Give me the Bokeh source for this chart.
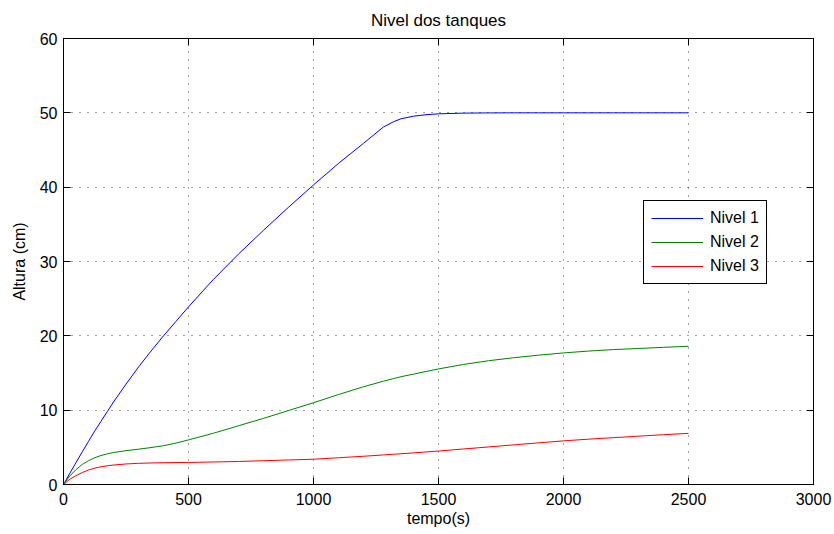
from bokeh.plotting import figure
from bokeh.models import ColumnDataSource, Legend, LegendItem, FixedTicker, Range1d, LinearAxis
from bokeh.embed import file_html
from bokeh.resources import INLINE

# ---- data ----
tempo = [0, 25, 50, 75, 100, 125, 150, 175, 200, 250, 300, 350, 400, 450, 500, 600, 700, 800, 900,
         1000, 1100, 1200, 1280, 1320, 1350, 1400, 1450, 1500, 1600, 1700, 1800,
         1900, 2000, 2100, 2200, 2300, 2400, 2500]
nivel1 = [0, 1.5, 2.95, 4.4, 5.8, 7.2, 8.5, 9.8, 11.1, 13.5, 15.8, 17.95, 20.0, 21.95, 23.9, 27.6, 31.0, 34.2, 37.3,
          40.3, 43.2, 45.9, 48.1, 48.8, 49.2, 49.55, 49.75, 49.87, 49.96, 49.99, 50.0,
          50.0, 50.0, 50.0, 50.0, 50.0, 50.0, 50.0]
nivel2 = [0, 1.15, 2.0, 2.7, 3.2, 3.6, 3.9, 4.12, 4.3, 4.55, 4.75, 4.97, 5.22, 5.57, 6.0, 6.9, 7.9, 8.9, 9.95,
          11.0, 12.1, 13.15, 13.9, 14.25, 14.5, 14.85, 15.2, 15.55, 16.15, 16.65, 17.05,
          17.4, 17.7, 17.95, 18.15, 18.3, 18.45, 18.6]
nivel3 = [0, 0.7, 1.2, 1.6, 1.95, 2.2, 2.38, 2.52, 2.62, 2.76, 2.85, 2.9, 2.93, 2.95, 2.97, 3.03, 3.1, 3.2, 3.3,
          3.4, 3.6, 3.8, 3.98, 4.07, 4.14, 4.25, 4.38, 4.5, 4.78, 5.05, 5.33,
          5.6, 5.87, 6.1, 6.3, 6.5, 6.7, 6.88]
series_names = ["Nivel 1", "Nivel 2", "Nivel 3"]
series_colors = ["#0000ff", "#008000", "#ff0000"]
x_ticks = [0, 500, 1000, 1500, 2000, 2500, 3000]
y_ticks = [0, 10, 20, 30, 40, 50, 60]

FONT = "Liberation Sans"
W, H = 834, 534
BL, BR, BT, BB = 63, 21, 38, 50
X0, X1, Y0, Y1 = 0, 3000, 0, 60
TICK = 7

src = ColumnDataSource(dict(t=tempo, n1=nivel1, n2=nivel2, n3=nivel3))

p = figure(width=W, height=H, output_backend="svg", toolbar_location=None,
           x_range=Range1d(X0, X1), y_range=Range1d(Y0, Y1),
           min_border_left=BL, min_border_right=BR, min_border_top=BT, min_border_bottom=BB,
           title="Nivel dos tanques")
p.title.align = "center"
p.title.text_font = FONT
p.title.text_font_size = "17px"
p.title.text_font_style = "normal"
p.title.text_color = "black"
p.title.standoff = 17

p.outline_line_color = "black"
p.outline_line_alpha = 1
p.background_fill_color = "white"
p.border_fill_color = "white"

for ax, ticks in ((p.xaxis[0], x_ticks), (p.yaxis[0], y_ticks)):
    ax.ticker = FixedTicker(ticks=ticks)
    ax.major_tick_in = TICK
    ax.major_tick_out = 0
    ax.minor_tick_line_color = None
    ax.axis_line_color = "black"
    ax.major_tick_line_color = "black"
    ax.major_label_text_font = FONT
    ax.major_label_text_font_size = "16px"
    ax.major_label_text_color = "black"
    ax.axis_label_text_font = FONT
    ax.axis_label_text_font_size = "16px"
    ax.axis_label_text_font_style = "normal"
    ax.axis_label_text_color = "black"

p.xaxis.axis_label = "tempo(s)"
p.yaxis.axis_label = "Altura (cm)"
p.xaxis.major_label_standoff = 8
p.yaxis.major_label_standoff = 6
p.xaxis.axis_label_standoff = 2
p.yaxis.axis_label_standoff = 9

# mirrored inward ticks on top and right edges (labels not drawn)
for loc, ticks in (("above", x_ticks), ("right", y_ticks)):
    ax = LinearAxis(ticker=FixedTicker(ticks=ticks), major_tick_in=TICK, major_tick_out=0,
                    minor_tick_line_color=None, major_label_text_color=None,
                    major_label_text_font_size="1px", major_label_standoff=0,
                    axis_line_color="black", major_tick_line_color="black")
    p.add_layout(ax, loc)

p.xgrid.ticker = FixedTicker(ticks=x_ticks)
p.ygrid.ticker = FixedTicker(ticks=y_ticks)
for g in (p.xgrid[0], p.ygrid[0]):
    g.grid_line_color = "black"
    g.grid_line_alpha = 0.75
    g.grid_line_dash = "1 7"
    g.grid_line_width = 1

renderers = []
for col, c in zip(["n1", "n2", "n3"], series_colors):
    r = p.line("t", col, source=src, line_color=c, line_width=1)
    renderers.append(r)

legend = Legend(items=[LegendItem(label=n, renderers=[r]) for n, r in zip(series_names, renderers)],
                location=(580, 200))
legend.border_line_color = "black"
legend.border_line_width = 1
legend.border_line_alpha = 1
legend.background_fill_color = "white"
legend.background_fill_alpha = 1
legend.label_text_font = FONT
legend.label_text_font_size = "16px"
legend.label_text_color = "black"
legend.glyph_width = 52
legend.glyph_height = 20
legend.label_height = 20
legend.label_standoff = 7
legend.spacing = 4
legend.padding = 7
legend.margin = 0
p.add_layout(legend, "center")

open("out.html", "w").write(file_html(p, INLINE))
